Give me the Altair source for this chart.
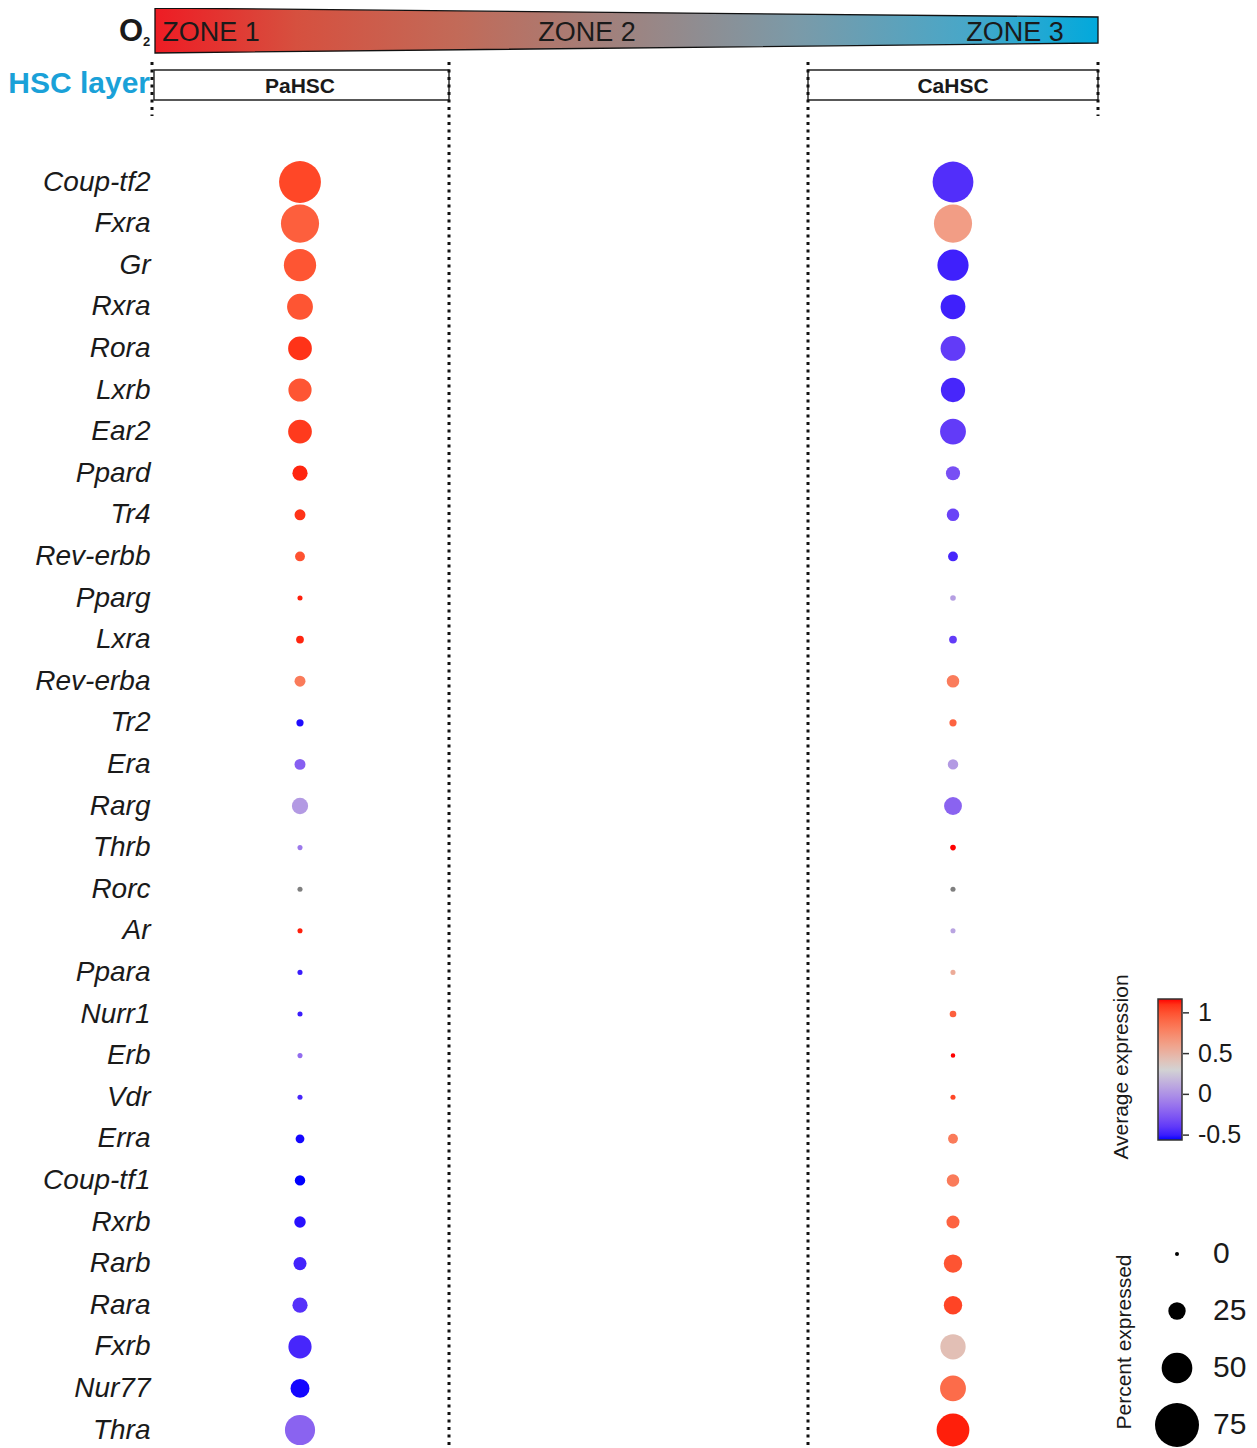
import altair as alt

# ---------------- data ----------------
genes = ["Coup-tf2", "Fxra", "Gr", "Rxra", "Rora", "Lxrb", "Ear2", "Ppard", "Tr4",
         "Rev-erbb", "Pparg", "Lxra", "Rev-erba", "Tr2", "Era", "Rarg", "Thrb", "Rorc",
         "Ar", "Ppara", "Nurr1", "Erb", "Vdr", "Erra", "Coup-tf1", "Rxrb", "Rarb",
         "Rara", "Fxrb", "Nur77", "Thra"]
clusters = ["PaHSC", "CaHSC"]

pa_pct = [71, 64, 53, 41, 37, 36, 37, 21, 13, 11, 2, 7, 13, 6, 13, 23, 2, 2, 2, 2,
          2, 2, 2, 9, 12, 14, 17, 21, 36, 28, 49]
pa_avg = [1.04, 0.95, 0.99, 0.99, 1.10, 0.99, 1.08, 1.13, 1.10, 1.00, 1.14, 1.13,
          0.82, -0.54, -0.23, 0.045, -0.11, None, 1.14, -0.50, -0.50, -0.17, -0.47,
          -0.55, -0.56, -0.53, -0.48, -0.43, -0.47, -0.55, -0.21]
ca_pct = [69, 64, 51, 39, 39, 38, 41, 19, 16, 11, 3, 7, 16, 6, 12, 26, 3, 2, 2, 2,
          5, 1, 2, 11, 16, 17, 27, 27, 40, 41, 54]
ca_avg = [-0.44, 0.63, -0.49, -0.49, -0.39, -0.47, -0.39, -0.30, -0.36, -0.47, 0.06,
          -0.39, 0.81, 0.93, 0.045, -0.21, 1.17, None, 0.09, 0.55, 0.95, 1.17, 1.04,
          0.82, 0.82, 0.93, 0.995, 1.05, 0.43, 0.89, 1.14]

zone_labels = ["ZONE 1", "ZONE 2", "ZONE 3"]
size_legend_values = [0, 25, 50, 75]
color_legend_values = [-0.5, 0, 0.5, 1]
color_domain = [-0.56, 0.305, 1.17]

rows = []
for i, g in enumerate(genes):
    rows.append({"gene": g, "cluster": "PaHSC", "pct": pa_pct[i], "avg": pa_avg[i]})
    rows.append({"gene": g, "cluster": "CaHSC", "pct": ca_pct[i], "avg": ca_avg[i]})

# ---------------- layout ----------------
CANVAS_W, CANVAS_H = 1241, 1440
PAD_L, PAD_T = 144, 0
OX, OY = 8 + PAD_L, 8 + PAD_T          # plot origin on the page
W, H = CANVAS_W - PAD_L, CANVAS_H - PAD_T
FONT = "Liberation Sans"
INK = "#1a1a1a"


def px(x):
    return x - OX


def py(y):
    return y - OY


def PX(field):
    return alt.X(field, scale=None, axis=None)


def PY(field):
    return alt.Y(field, scale=None, axis=None)


# diameter (px) grows linearly with percent expressed: d = 4 + pct*40/75
D0, DK = 4, 40 / 75
calc_d = f"{D0} + datum.pct * {DK}"

x_enc = alt.X("cluster:N", axis=None,
              scale=alt.Scale(type="point", domain=clusters,
                              range=[px(300), px(953)], padding=0))
y_scale = alt.Scale(type="point", domain=genes, range=[py(182), py(1430)], padding=0)
size_scale = alt.Scale(type="pow", exponent=2, domain=[0, 44], range=[0, 1936])

base = alt.Chart(alt.Data(values=rows)).transform_calculate(d=calc_d)

dots = base.transform_filter("isValid(datum.avg)").mark_circle(opacity=1).encode(
    x=x_enc,
    y=alt.Y("gene:N", scale=y_scale,
            axis=alt.Axis(title=None, domain=False, ticks=False, grid=False,
                          labelFontSize=28, labelFontStyle="italic",
                          labelColor=INK, labelPadding=2, labelFont=FONT)),
    size=alt.Size("d:Q", scale=size_scale, legend=None),
    color=alt.Color(
        "avg:Q",
        scale=alt.Scale(domain=color_domain,
                        range=["#0000ff", "#d3d3d3", "#ff0000"], interpolate="lab"),
        legend=alt.Legend(
            orient="none", legendX=px(1158), legendY=py(999), title=None,
            direction="vertical", gradientLength=141, gradientThickness=24,
            gradientStrokeColor="#333333", gradientStrokeWidth=1.5,
            values=color_legend_values, labelExpr="'' + datum.value",
            labelFontSize=25, labelColor=INK, labelOffset=16,
        ),
    ),
)

na_dots = base.transform_filter("!isValid(datum.avg)").mark_circle(
    opacity=1, color="#7f7f7f"
).encode(x=x_enc, y=alt.Y("gene:N", scale=y_scale, axis=None),
         size=alt.Size("d:Q", scale=size_scale, legend=None))

# ticks on the colour bar, placed through a scale matching the gradient
cticks = alt.Chart(alt.Data(values=[{"v": v} for v in color_legend_values])).mark_rule(
    color="#333333", strokeWidth=1.5
).encode(
    y=alt.Y("v:Q", scale=alt.Scale(domain=[color_domain[0], color_domain[-1]],
                                   range=[py(1140), py(999)]), axis=None),
    x=alt.value(px(1183)), x2=alt.value(px(1189)),
)

# size legend ("Percent expressed"), drawn through the same size scale
size_leg_base = alt.Chart(alt.Data(values=[{"pct": v} for v in size_legend_values])
                          ).transform_calculate(d=calc_d)
leg_y = alt.Y("pct:O", axis=None,
              scale=alt.Scale(type="point", domain=size_legend_values,
                              range=[py(1254), py(1425)], padding=0))
size_leg_sym = size_leg_base.mark_circle(opacity=1, color="black").encode(
    y=leg_y, x=alt.value(px(1177)),
    size=alt.Size("d:Q", scale=size_scale, legend=None))
size_leg_lab = size_leg_base.mark_text(
    font=FONT, fontSize=30, align="left", baseline="middle", color=INK
).encode(y=leg_y, x=alt.value(px(1213)), text="pct:O")

# ---------------- header decorations ----------------
grad = alt.LinearGradient(
    gradient="linear", x1=0, x2=1, y1=0, y2=0,
    stops=[alt.GradientStop(offset=0.0, color="#ee1c24"),
           alt.GradientStop(offset=0.15, color="#d6503f"),
           alt.GradientStop(offset=0.32, color="#c26a58"),
           alt.GradientStop(offset=0.5, color="#9e8380"),
           alt.GradientStop(offset=0.68, color="#7b9aa8"),
           alt.GradientStop(offset=0.86, color="#48a7c8"),
           alt.GradientStop(offset=1.0, color="#02a9dc")],
)
bar = alt.Chart(alt.Data(values=[
    {"x": px(155), "yt": py(8), "yb": py(53)},
    {"x": px(1098), "yt": py(17), "yb": py(43)},
])).mark_area(orient="vertical", fill=grad, stroke="#111111", strokeWidth=1.3,
              opacity=1).encode(x=PX("x:Q"), y=PY("yt:Q"), y2="yb:Q")


def text_layer(items, **kw):
    return alt.Chart(alt.Data(values=items)).mark_text(font=FONT, **kw).encode(
        x=PX("x:Q"), y=PY("y:Q"), text="t:N")


o2 = text_layer([{"t": "O", "x": px(119), "y": py(41)}], fontSize=31,
                fontWeight="bold", align="left", baseline="alphabetic", color=INK)
o2_sub = text_layer([{"t": "2", "x": px(143), "y": py(46)}], fontSize=13,
                    fontWeight="bold", align="left", baseline="alphabetic", color=INK)
zones = text_layer([
    {"t": zone_labels[0], "x": px(211), "y": py(41)},
    {"t": zone_labels[1], "x": px(587), "y": py(41)},
    {"t": zone_labels[2], "x": px(1015), "y": py(41)},
], fontSize=27, align="center", baseline="alphabetic", color=INK)
hsc = text_layer([{"t": "HSC layer", "x": px(150), "y": py(93)}], fontSize=30,
                 fontWeight="bold", align="right", baseline="alphabetic",
                 color="#1aa1d8")
legend_titles = text_layer([
    {"t": "Average expression", "x": px(1122), "y": py(1067)},
    {"t": "Percent expressed", "x": px(1125), "y": py(1342)},
], fontSize=21, angle=270, align="center", baseline="middle", color=INK)

boxes = alt.Chart(alt.Data(values=[
    {"x": px(154), "x2": px(449), "y": py(70), "y2": py(100)},
    {"x": px(808), "x2": px(1098), "y": py(70), "y2": py(100)},
])).mark_rect(fill="white", stroke="#222222", strokeWidth=1.4).encode(
    x=PX("x:Q"), x2="x2:Q", y=PY("y:Q"), y2="y2:Q")
box_labels = text_layer([
    {"t": clusters[0], "x": px(300), "y": py(93)},
    {"t": clusters[1], "x": px(953), "y": py(93)},
], fontSize=21, fontWeight="bold", align="center", baseline="alphabetic", color=INK)

# dotted zone separators: inner ones run the full height, outer ones stop below the boxes
dotted = alt.Chart(alt.Data(values=[
    {"x": px(152), "y": py(62), "y2": py(116)},
    {"x": px(449), "y": py(62), "y2": H},
    {"x": px(808), "y": py(62), "y2": H},
    {"x": px(1098), "y": py(62), "y2": py(116)},
])).mark_rule(color="#111111", strokeWidth=3, strokeDash=[3, 4.5]).encode(
    x=PX("x:Q"), y=PY("y:Q"), y2="y2:Q")

chart = alt.layer(
    bar, o2, o2_sub, zones, hsc, boxes, box_labels, dotted, legend_titles,
    dots, na_dots, cticks, size_leg_sym, size_leg_lab
).resolve_scale(x="independent", y="independent").properties(
    width=W, height=H, autosize="none",
    padding={"left": PAD_L, "top": PAD_T, "right": 0, "bottom": 0},
).configure(font=FONT).configure_view(
    strokeWidth=0, stroke="transparent"
).configure_axis(domain=False, ticks=False, grid=False)

chart.save("out.html", embed_options={"renderer": "svg", "actions": False})
